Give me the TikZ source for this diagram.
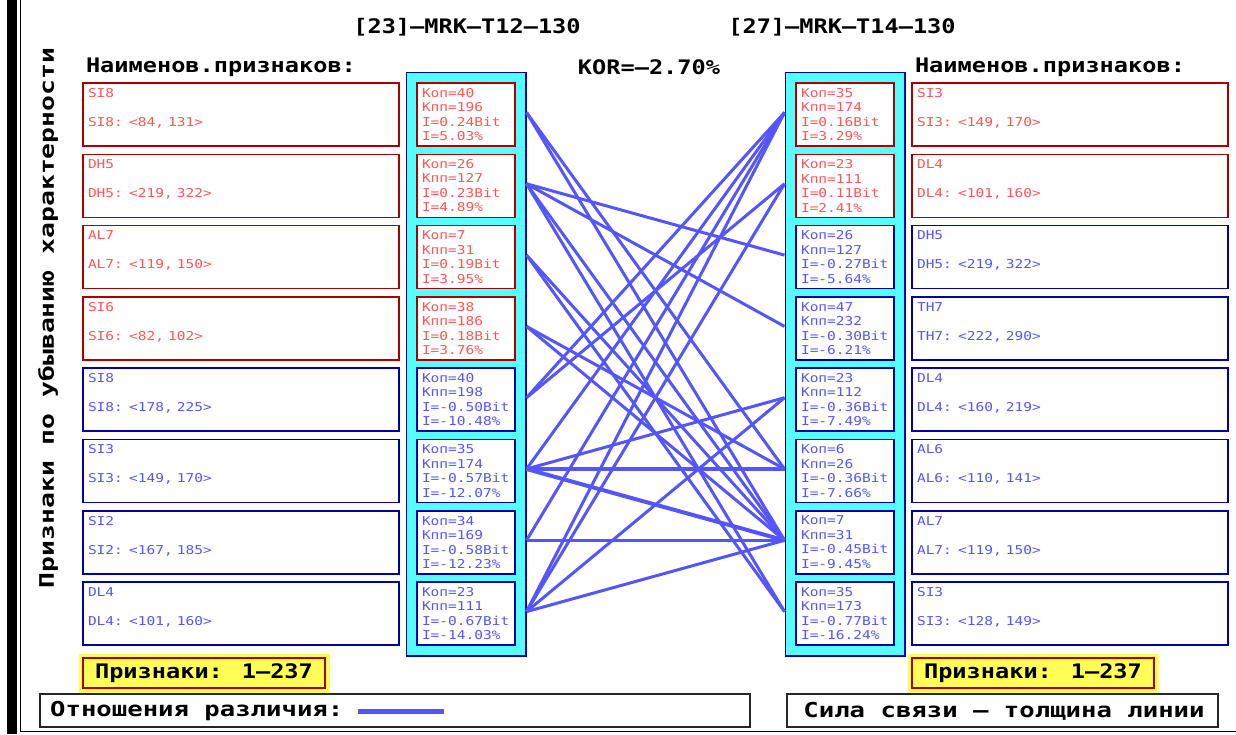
\documentclass[tikz,border=0pt]{standalone}
\usepackage{fontspec}
\usepackage{tikz}
\usetikzlibrary{positioning,fit,backgrounds}
\newfontfamily\pixfont[FakeStretch=1.19]{DejaVu Sans Mono}
\newfontfamily\bigfont[FakeStretch=1.18]{DejaVu Sans Mono}
\newfontfamily\legfont[FakeStretch=1.25]{DejaVu Sans Mono}
\newfontfamily\sidefont[FakeStretch=1.32]{DejaVu Sans Mono}
\definecolor{dred}{RGB}{170,0,0}
\definecolor{lred}{RGB}{255,85,85}
\definecolor{dblue}{RGB}{0,0,170}
\definecolor{lblue}{RGB}{85,85,255}
\definecolor{lcyan}{RGB}{85,255,255}
\definecolor{lyel}{RGB}{255,255,85}
\tikzstyle{featr} = [rectangle, draw=dred, line width=1.5pt, fill=white, text=lred, minimum height=63pt, text width=306pt, inner xsep=5pt, inner ysep=0pt, align=left, font={\pixfont\fontsize{12.2}{14.5}\selectfont}]
\tikzstyle{featb} = [featr, draw=dblue, text=lblue]
\tikzstyle{statr} = [featr, text width=92pt, inner xsep=3pt]
\tikzstyle{statb} = [statr, draw=dblue, text=lblue]
\tikzstyle{column} = [draw=dblue, line width=1.5pt, fill=lcyan, inner sep=10pt]
\tikzstyle{title} = [inner sep=0pt, font={\bigfont\bfseries\fontsize{20}{24}\selectfont}]
\tikzstyle{tag} = [draw=dred, line width=1.5pt, fill=lyel, preaction={draw=lyel, line width=9pt}, minimum width=242pt, minimum height=30pt, inner sep=0pt, font={\bigfont\bfseries\fontsize{20}{24}\selectfont}]
\tikzstyle{legbox} = [draw=black!85, line width=1.5pt, minimum height=33pt, inner sep=0pt]
\tikzstyle{legtext} = [inner sep=0pt, font={\legfont\bfseries\fontsize{20.5}{24}\selectfont}]
\tikzstyle{rel} = [draw=lblue, line width=3pt]
\tikzstyle{relw} = [rel, line width=4pt]
% feature name, blank row, name with its interval
\newcommand{\feat}[2]{#1\\\mbox{}\\#1: #2\\\mbox{}}
% counts and information of a feature
\newcommand{\stat}[4]{\mbox{}\hspace{2pt}Коп=#1\\\mbox{}\hspace{2pt}Кпп=#2\\\mbox{}\hspace{2pt}I=#3Bit\\\mbox{}\hspace{2pt}I=#4\%}

\begin{document}
\begin{tikzpicture}[x=1pt, y=-1pt]
\useasboundingbox (0,0) rectangle (1236,734);

% frame ==================================
\fill[black] (7,0) rectangle (17,734);
\draw[line width=1pt] (20,0) -- (20,731) -- (1236,731);

% titles
\node[title] (cls1) at (467,27) {[23]–MRK–T12–130};
\node[title] (cls2) at (842,27) {[27]–MRK–T14–130};
\node[title] (kor) at (649,67) {KOR=–2.70\%};
\node[title] (namesL) at (221,67) {Наименов.признаков:};
\node[title] (namesR) at (1050,67) {Наименов.признаков:};
\node[title, rotate=90, font={\sidefont\bfseries\fontsize{20}{24}\selectfont}] (side) at (48,318) {Признаки по убыванию характерности};

% left features
\node[featr] (lf1) at (241,114.5) {\feat{SI8}{<84, 131>}};
\node[featr, below=6.8pt of lf1] (lf2) {\feat{DH5}{<219, 322>}};
\node[featr, below=6.8pt of lf2] (lf3) {\feat{AL7}{<119, 150>}};
\node[featr, below=6.8pt of lf3] (lf4) {\feat{SI6}{<82, 102>}};
\node[featb, below=6.8pt of lf4] (lf5) {\feat{SI8}{<178, 225>}};
\node[featb, below=6.8pt of lf5] (lf6) {\feat{SI3}{<149, 170>}};
\node[featb, below=6.8pt of lf6] (lf7) {\feat{SI2}{<167, 185>}};
\node[featb, below=6.8pt of lf7] (lf8) {\feat{DL4}{<101, 160>}};

% left information values
\node[statr, right=16.5pt of lf1] (ls1) {\stat{40}{196}{0.24}{5.03}};
\node[statr, right=16.5pt of lf2] (ls2) {\stat{26}{127}{0.23}{4.89}};
\node[statr, right=16.5pt of lf3] (ls3) {\stat{7}{31}{0.19}{3.95}};
\node[statr, right=16.5pt of lf4] (ls4) {\stat{38}{186}{0.18}{3.76}};
\node[statb, right=16.5pt of lf5] (ls5) {\stat{40}{198}{-0.50}{-10.48}};
\node[statb, right=16.5pt of lf6] (ls6) {\stat{35}{174}{-0.57}{-12.07}};
\node[statb, right=16.5pt of lf7] (ls7) {\stat{34}{169}{-0.58}{-12.23}};
\node[statb, right=16.5pt of lf8] (ls8) {\stat{23}{111}{-0.67}{-14.03}};

% right information values
\node[statr, right=279.5pt of ls1] (rs1) {\stat{35}{174}{0.16}{3.29}};
\node[statr, right=279.5pt of ls2] (rs2) {\stat{23}{111}{0.11}{2.41}};
\node[statb, right=279.5pt of ls3] (rs3) {\stat{26}{127}{-0.27}{-5.64}};
\node[statb, right=279.5pt of ls4] (rs4) {\stat{47}{232}{-0.30}{-6.21}};
\node[statb, right=279.5pt of ls5] (rs5) {\stat{23}{112}{-0.36}{-7.49}};
\node[statb, right=279.5pt of ls6] (rs6) {\stat{6}{26}{-0.36}{-7.66}};
\node[statb, right=279.5pt of ls7] (rs7) {\stat{7}{31}{-0.45}{-9.45}};
\node[statb, right=279.5pt of ls8] (rs8) {\stat{35}{173}{-0.77}{-16.24}};

% right features
\node[featr, right=16.5pt of rs1] (rf1) {\feat{SI3}{<149, 170>}};
\node[featr, right=16.5pt of rs2] (rf2) {\feat{DL4}{<101, 160>}};
\node[featb, right=16.5pt of rs3] (rf3) {\feat{DH5}{<219, 322>}};
\node[featb, right=16.5pt of rs4] (rf4) {\feat{TH7}{<222, 290>}};
\node[featb, right=16.5pt of rs5] (rf5) {\feat{DL4}{<160, 219>}};
\node[featb, right=16.5pt of rs6] (rf6) {\feat{AL6}{<110, 141>}};
\node[featb, right=16.5pt of rs7] (rf7) {\feat{AL7}{<119, 150>}};
\node[featb, right=16.5pt of rs8] (rf8) {\feat{SI3}{<128, 149>}};

% cyan columns behind the values
\begin{scope}[on background layer]
\node[column, fit=(ls1)(ls8)] (colL) {};
\node[column, fit=(rs1)(rs8)] (colR) {};
\end{scope}

% line ends on the columns
\coordinate[yshift=2pt] (pl1) at (colL.east |- ls1);
\coordinate[yshift=2pt] (pl2) at (colL.east |- ls2);
\coordinate[yshift=2pt] (pl3) at (colL.east |- ls3);
\coordinate[yshift=2pt] (pl4) at (colL.east |- ls4);
\coordinate[yshift=2pt] (pl5) at (colL.east |- ls5);
\coordinate[yshift=2pt] (pl6) at (colL.east |- ls6);
\coordinate[yshift=2pt] (pl7) at (colL.east |- ls7);
\coordinate[yshift=2pt] (pl8) at (colL.east |- ls8);
\coordinate[yshift=2pt] (pr1) at (colR.west |- rs1);
\coordinate[yshift=2pt] (pr2) at (colR.west |- rs2);
\coordinate[yshift=2pt] (pr3) at (colR.west |- rs3);
\coordinate[yshift=2pt] (pr4) at (colR.west |- rs4);
\coordinate[yshift=2pt] (pr5) at (colR.west |- rs5);
\coordinate[yshift=2pt] (pr6) at (colR.west |- rs6);
\coordinate[yshift=2pt] (pr7) at (colR.west |- rs7);
\coordinate[yshift=2pt] (pr8) at (colR.west |- rs8);

% relations
\path[rel] (pl1) -- (pr6);
\path[rel] (pl1) -- (pr7);
\path[rel] (pl2) -- (pr3);
\path[rel] (pl2) -- (pr4);
\path[rel] (pl2) -- (pr7);
\path[rel] (pl2) -- (pr8);
\path[rel] (pl3) -- (pr7);
\path[rel] (pl3) -- (pr8);
\path[rel] (pl4) -- (pr6);
\path[rel] (pl4) -- (pr7);
\path[rel] (pl5) -- (pr1);
\path[rel] (pl5) -- (pr2);
\path[rel] (pl6) -- (pr1);
\path[rel] (pl6) -- (pr5);
\path[relw] (pl6) -- (pr6);
\path[relw] (pl6) -- (pr7);
\path[rel] (pl7) -- (pr1);
\path[rel] (pl7) -- (pr7);
\path[rel] (pl8) -- (pr1);
\path[rel] (pl8) -- (pr2);
\path[rel] (pl8) -- (pr5);
\path[rel] (pl8) -- (pr7);

% counters and legend
\node[tag] (tagL) at (204,673) {Признаки: 1–237};
\node[tag] (tagR) at (1033,673) {Признаки: 1–237};
\node[legbox, minimum width=710pt] (legL) at (395,710.5) {};
\node[legtext, anchor=west] (legtxt) at (50,711) {Отношения различия:};
\coordinate[right=100pt of legtxt.east] (legend);
\path[rel, line width=5pt] ([xshift=14pt]legtxt.east) -- (legend);
\node[legbox, minimum width=431pt] (legR) at (1002.5,710.5) {};
\node[legtext] (legtxt2) at (1004,711) {Сила связи – толщина линии};

\end{tikzpicture}
\end{document}
